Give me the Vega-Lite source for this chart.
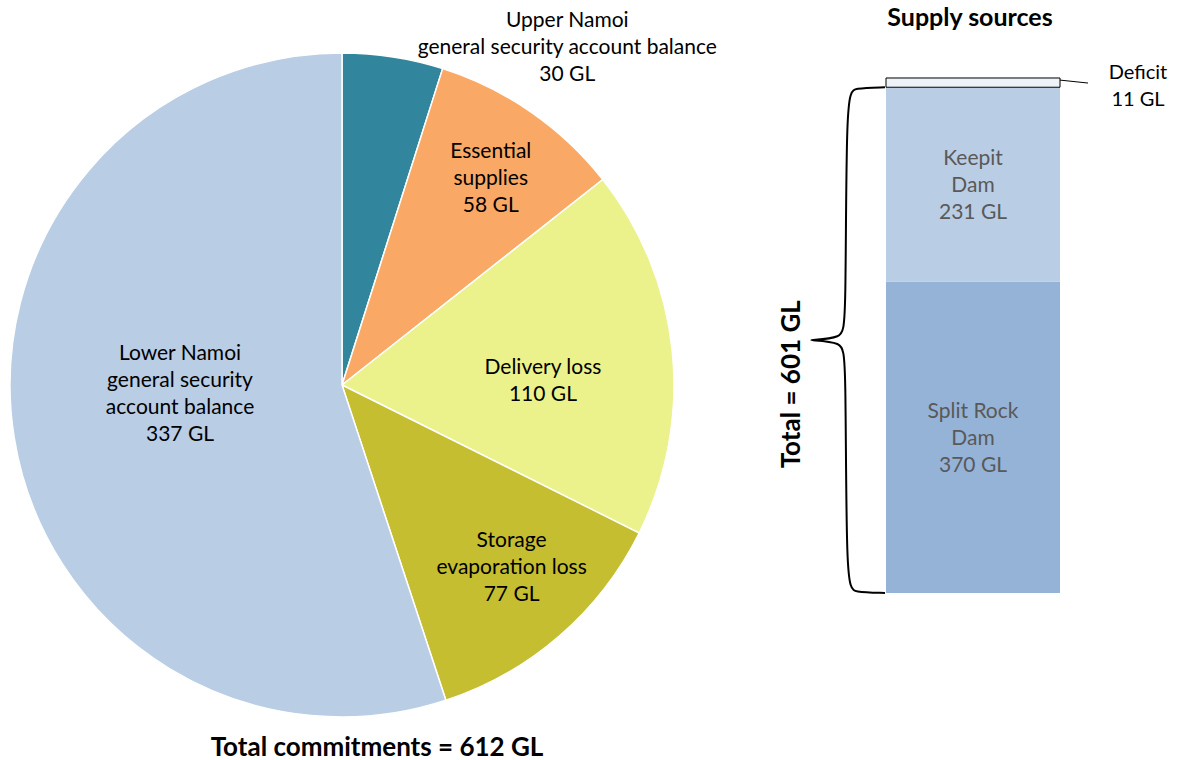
{
  "$schema": "https://vega.github.io/schema/vega-lite/v6.json",
  "padding": {"left": 7, "top": 6, "right": 0, "bottom": 0},
  "bounds": "flush",
  "spacing": 106,
  "resolve": {"scale": {"color": "independent"}},
  "config": {"view": {"stroke": null}, "font": "Lato", "text": {"font": "Lato"}},
  "datasets": {
    "commitments": [
      {"item": "Upper Namoi", "label": "Upper Namoi\ngeneral security account balance\n30 GL", "value": 30, "ord": 1},
      {"item": "Essential supplies", "label": "Essential\nsupplies\n58 GL", "value": 58, "ord": 2},
      {"item": "Delivery loss", "label": "Delivery loss\n110 GL", "value": 110, "ord": 3},
      {"item": "Storage evaporation loss", "label": "Storage\nevaporation loss\n77 GL", "value": 77, "ord": 4},
      {"item": "Lower Namoi", "label": "Lower Namoi\ngeneral security\naccount balance\n337 GL", "value": 337, "ord": 5}
    ],
    "supply": [
      {"source": "Split Rock Dam", "label": "Split Rock\nDam\n370 GL", "value": 370, "ord": 1},
      {"source": "Keepit Dam", "label": "Keepit\nDam\n231 GL", "value": 231, "ord": 2},
      {"source": "Deficit", "label": "Deficit\n11 GL", "value": 11, "ord": 3}
    ],
    "brace": [
      {"i": 1, "bx": 26.25, "by": 601},
      {"i": 2, "bx": 18.5, "by": 600},
      {"i": 3, "bx": 16.5, "by": 594},
      {"i": 4, "bx": 16.5, "by": 318},
      {"i": 5, "bx": 15.5, "by": 303},
      {"i": 6, "bx": 7.5, "by": 300.5},
      {"i": 7, "bx": 7.5, "by": 300.5},
      {"i": 8, "bx": 15.5, "by": 298},
      {"i": 9, "bx": 16.5, "by": 283},
      {"i": 10, "bx": 16.5, "by": 7},
      {"i": 11, "bx": 18.5, "by": 1},
      {"i": 12, "bx": 26.25, "by": 0}
    ],
    "total": [{"t": "Total = 601 GL", "gl": 601}]
  },
  "hconcat": [
    {
      "width": 664,
      "height": 664,
      "data": {"name": "commitments"},
      "title": {"text": "Total commitments = 612 GL", "orient": "bottom", "fontSize": 26, "fontWeight": "bold", "font": "Lato", "color": "black", "offset": 15, "dx": 35},
      "encoding": {
        "theta": {"field": "value", "type": "quantitative", "stack": true},
        "order": {"field": "ord", "type": "quantitative"}
      },
      "layer": [
        {
          "mark": {"type": "arc", "stroke": "white", "strokeWidth": 1.5},
          "encoding": {
            "color": {"field": "item", "type": "nominal", "legend": null,
              "scale": {"domain": ["Upper Namoi", "Essential supplies", "Delivery loss", "Storage evaporation loss", "Lower Namoi"],
                        "range": ["#31859C", "#F9A965", "#EBF18B", "#C4BE30", "#B9CDE5"]}}
          }
        },
        {
          "mark": {"type": "text", "radius": 367, "dx": 169, "dy": -1, "fontSize": 21, "lineBreak": "\n", "lineHeight": 27, "color": "black", "font": "Lato"},
          "encoding": {"text": {"condition": {"test": "datum.item === 'Upper Namoi'", "field": "label"}, "value": ""}}
        },
        {
          "mark": {"type": "text", "radius": 256, "dx": 3, "dy": -23, "fontSize": 21, "lineBreak": "\n", "lineHeight": 27, "color": "black", "font": "Lato"},
          "encoding": {"text": {"condition": {"test": "datum.item === 'Essential supplies'", "field": "label"}, "value": ""}}
        },
        {
          "mark": {"type": "text", "radius": 202, "dy": 3.5, "fontSize": 21, "lineBreak": "\n", "lineHeight": 27, "color": "black", "font": "Lato"},
          "encoding": {"text": {"condition": {"test": "datum.item === 'Delivery loss'", "field": "label"}, "value": ""}}
        },
        {
          "mark": {"type": "text", "radius": 250, "dx": 6, "dy": -33, "fontSize": 21, "lineBreak": "\n", "lineHeight": 27, "color": "black", "font": "Lato"},
          "encoding": {"text": {"condition": {"test": "datum.item === 'Storage evaporation loss'", "field": "label"}, "value": ""}}
        },
        {
          "mark": {"type": "text", "radius": 158, "dx": -6, "dy": -56.5, "fontSize": 21, "lineBreak": "\n", "lineHeight": 27, "color": "black", "font": "Lato"},
          "encoding": {"text": {"condition": {"test": "datum.item === 'Lower Namoi'", "field": "label"}, "value": ""}}
        }
      ]
    },
    {
      "width": 400,
      "height": 664,
      "title": {"text": "Supply sources", "fontSize": 25, "fontWeight": "bold", "font": "Lato", "color": "black", "offset": 22, "dx": -10},
      "layer": [
        {
          "data": {"name": "supply"},
          "transform": [
            {"stack": "value", "groupby": [], "sort": [{"field": "ord"}], "as": ["s0", "s1"]}
          ],
          "mark": {"type": "bar", "strokeWidth": 1},
          "encoding": {
            "x": {"datum": 26.5, "type": "quantitative", "scale": {"domain": [0, 100], "nice": false, "zero": false}, "axis": null},
            "x2": {"datum": 70},
            "y": {"field": "s0", "type": "quantitative", "scale": {"domain": [-147.4, 641.7], "nice": false, "zero": false}, "axis": null},
            "y2": {"field": "s1"},
            "color": {"field": "source", "type": "nominal", "legend": null,
              "scale": {"domain": ["Split Rock Dam", "Keepit Dam", "Deficit"], "range": ["#95B3D7", "#B9CDE5", "#EEF3FA"]}},
            "stroke": {"condition": {"test": "datum.source === 'Deficit'", "value": "black"}, "value": null}
          }
        },
        {
          "data": {"name": "supply"},
          "transform": [
            {"stack": "value", "groupby": [], "sort": [{"field": "ord"}], "as": ["s0", "s1"]},
            {"calculate": "(datum.s0 + datum.s1) / 2", "as": "mid"},
            {"filter": "datum.source !== 'Deficit'"}
          ],
          "mark": {"type": "text", "fontSize": 21, "lineBreak": "\n", "lineHeight": 27, "color": "#595959", "font": "Lato", "dy": -25},
          "encoding": {
            "x": {"datum": 48.25, "type": "quantitative", "scale": {"domain": [0, 100], "nice": false, "zero": false}, "axis": null},
            "y": {"field": "mid", "type": "quantitative", "scale": {"domain": [-147.4, 641.7], "nice": false, "zero": false}, "axis": null},
            "text": {"field": "label"}
          }
        },
        {
          "data": {"name": "supply"},
          "transform": [
            {"stack": "value", "groupby": [], "sort": [{"field": "ord"}], "as": ["s0", "s1"]},
            {"calculate": "(datum.s0 + datum.s1) / 2", "as": "mid"},
            {"filter": "datum.source === 'Deficit'"}
          ],
          "mark": {"type": "text", "fontSize": 20, "lineBreak": "\n", "lineHeight": 27, "color": "black", "font": "Lato", "dy": -10},
          "encoding": {
            "x": {"datum": 89.5, "type": "quantitative", "scale": {"domain": [0, 100], "nice": false, "zero": false}, "axis": null},
            "y": {"field": "mid", "type": "quantitative", "scale": {"domain": [-147.4, 641.7], "nice": false, "zero": false}, "axis": null},
            "text": {"field": "label"}
          }
        },
        {
          "data": {"name": "supply"},
          "transform": [{"filter": "datum.source === 'Deficit'"}],
          "mark": {"type": "rule", "color": "black", "strokeWidth": 1},
          "encoding": {
            "x": {"datum": 70, "type": "quantitative", "scale": {"domain": [0, 100], "nice": false, "zero": false}, "axis": null},
            "x2": {"datum": 77},
            "y": {"datum": 609.5, "type": "quantitative", "scale": {"domain": [-147.4, 641.7], "nice": false, "zero": false}, "axis": null},
            "y2": {"datum": 606}
          }
        },
        {
          "data": {"name": "brace"},
          "mark": {"type": "line", "color": "black", "strokeWidth": 2, "interpolate": "basis"},
          "encoding": {
            "x": {"field": "bx", "type": "quantitative", "scale": {"domain": [0, 100], "nice": false, "zero": false}, "axis": null},
            "y": {"field": "by", "type": "quantitative", "scale": {"domain": [-147.4, 641.7], "nice": false, "zero": false}, "axis": null},
            "order": {"field": "i", "type": "quantitative"}
          }
        },
        {
          "data": {"name": "total"},
          "mark": {"type": "text", "angle": 270, "fontSize": 26, "fontWeight": "bold", "color": "black", "font": "Lato", "align": "center", "baseline": "middle"},
          "encoding": {
            "x": {"datum": 3, "type": "quantitative", "scale": {"domain": [0, 100], "nice": false, "zero": false}, "axis": null},
            "y": {"datum": 248, "type": "quantitative", "scale": {"domain": [-147.4, 641.7], "nice": false, "zero": false}, "axis": null},
            "text": {"field": "t"}
          }
        }
      ]
    }
  ]
}
